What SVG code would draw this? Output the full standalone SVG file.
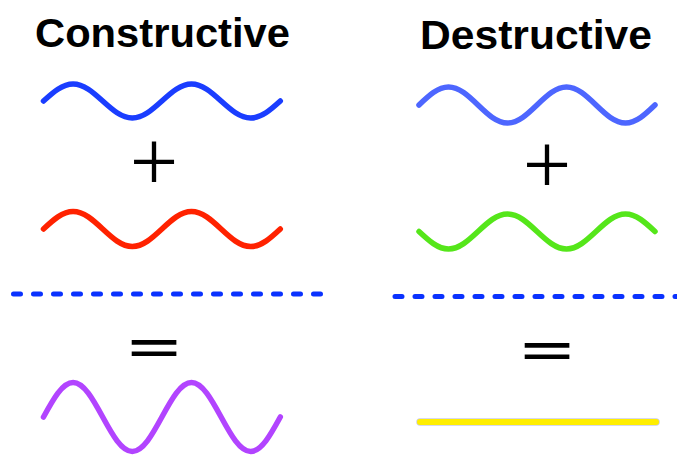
<svg xmlns="http://www.w3.org/2000/svg" width="677" height="456" viewBox="0 0 677 456">
  <style>
    .title { font-family: "Liberation Sans", Arial, sans-serif; font-weight: bold; font-size: 40px; fill: #000; }
    .plus { font-family: "Liberation Serif", "Times New Roman", serif; fill: #000; text-anchor: middle; font-size: 86px; }
    .eq { font-family: "Liberation Sans", Arial, sans-serif; font-weight: bold; fill: #000; text-anchor: middle; font-size: 42px; }
    .wave { fill: none; stroke-width: 5.5; stroke-linecap: round; stroke-linejoin: round; }
    .dash { fill: none; stroke: #0a32ff; stroke-width: 5; stroke-linecap: round; stroke-dasharray: 7 13; }
  </style>
  <rect width="677" height="456" fill="#fff"/>

  <g id="constructive">
    <text id="title-constructive" class="title" x="35" y="47" textLength="255" lengthAdjust="spacingAndGlyphs">Constructive</text>
    <g id="wave-blue-left">
      <path class="wave" stroke="#1a3dff" d="M43.5,101
        c9.65,-8.7 18.88,-17 29.6,-17 c10.72,0 19.95,8.3 29.6,17 c9.65,8.7 18.88,17 29.6,17 c10.72,0 19.95,-8.3 29.6,-17
        c9.65,-8.7 18.88,-17 29.6,-17 c10.72,0 19.95,8.3 29.6,17 c9.65,8.7 18.88,17 29.6,17 c10.72,0 19.95,-8.3 29.6,-17"/>
    </g>
    <g id="plus-left">
      <text class="plus" x="154" y="191">+</text>
    </g>
    <g id="wave-red">
      <path class="wave" stroke="#ff2200" d="M43.5,229
        c9.65,-8.96 18.88,-17.5 29.6,-17.5 c10.72,0 19.95,8.54 29.6,17.5 c9.65,8.96 18.88,17.5 29.6,17.5 c10.72,0 19.95,-8.54 29.6,-17.5
        c9.65,-8.96 18.88,-17.5 29.6,-17.5 c10.72,0 19.95,8.54 29.6,17.5 c9.65,8.96 18.88,17.5 29.6,17.5 c10.72,0 19.95,-8.54 29.6,-17.5"/>
    </g>
    <g id="equals-left">
      <text class="eq" x="154" y="362.5" textLength="52" lengthAdjust="spacingAndGlyphs">=</text>
    </g>
    <g id="wave-purple">
      <path class="wave" stroke="#b244ff" d="M43.5,417
        c9.65,-17.66 18.88,-34.5 29.6,-34.5 c10.72,0 19.95,16.84 29.6,34.5 c9.65,17.66 18.88,34.5 29.6,34.5 c10.72,0 19.95,-16.84 29.6,-34.5
        c9.65,-17.66 18.88,-34.5 29.6,-34.5 c10.72,0 19.95,16.84 29.6,34.5 c9.65,17.66 18.88,34.5 29.6,34.5 c10.72,0 19.95,-16.84 29.6,-34.5"/>
    </g>
  </g>

  <g id="destructive">
    <text id="title-destructive" class="title" x="420" y="48.5" textLength="232" lengthAdjust="spacingAndGlyphs">Destructive</text>
    <g id="wave-blue-right">
      <path class="wave" stroke="#4d66ff" d="M419,105
        c9.62,-9.22 18.82,-18 29.5,-18 c10.68,0 19.88,8.78 29.5,18 c9.62,9.22 18.82,18 29.5,18 c10.68,0 19.88,-8.78 29.5,-18
        c9.62,-9.22 18.82,-18 29.5,-18 c10.68,0 19.88,8.78 29.5,18 c9.62,9.22 18.82,18 29.5,18 c10.68,0 19.88,-8.78 29.5,-18"/>
    </g>
    <g id="plus-right">
      <text class="plus" x="547" y="194">+</text>
    </g>
    <g id="wave-green">
      <path class="wave" stroke="#55e61a" d="M419,231.5
        c9.62,8.96 18.82,17.5 29.5,17.5 c10.68,0 19.88,-8.54 29.5,-17.5 c9.62,-8.96 18.82,-17.5 29.5,-17.5 c10.68,0 19.88,8.54 29.5,17.5
        c9.62,8.96 18.82,17.5 29.5,17.5 c10.68,0 19.88,-8.54 29.5,-17.5 c9.62,-8.96 18.82,-17.5 29.5,-17.5 c10.68,0 19.88,8.54 29.5,17.5"/>
    </g>
    <g id="equals-right">
      <text class="eq" x="547" y="365.5" textLength="52" lengthAdjust="spacingAndGlyphs">=</text>
    </g>
    <g id="line-yellow">
      <line x1="420" y1="422" x2="656" y2="422" stroke="#c9cbe6" stroke-width="7.5" stroke-linecap="round"/>
      <line x1="420" y1="422" x2="656" y2="422" stroke="#ffee00" stroke-width="6" stroke-linecap="round"/>
    </g>
  </g>

  <g id="connectors">
    <line id="divider-left" class="dash" x1="13.5" y1="294" x2="322" y2="294"/>
    <line id="divider-right" class="dash" x1="395" y1="296.5" x2="690" y2="296.5"/>
  </g>
</svg>
